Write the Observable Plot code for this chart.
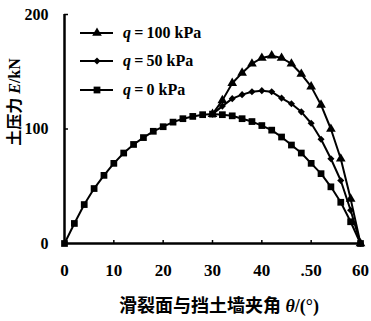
<!DOCTYPE html>
<html><head><meta charset="utf-8">
<script src="https://cdn.jsdelivr.net/npm/d3@7"></script>
<script src="https://cdn.jsdelivr.net/npm/@observablehq/plot@0.6"></script>
<style>
body{margin:0;background:#fff}
svg text{font-family:'Liberation Serif','Times New Roman',serif !important;font-weight:bold}
</style></head><body><div id="chart"></div>
<script>
// ---- data ----
const theta = [0,2,4,6,8,10,12,14,16,18,20,22,24,26,28,30,32,34,36,38,40,42,44,46,48,50,52,54,56,58,60];
const thetaHigh = [30,32,34,36,38,40,42,44,46,48,50,52,54,56,58,60];
const q0 = [0,17.5,34,48,59.5,70,79,86.5,92.5,98,102,106,109,111,112.5,113,112.5,111.5,109,106.5,103,99,93,86,79,70,61,49.5,36,19,0];
const q50 = [113,120,126.5,130,132.5,133.5,132.5,127,122,115,105,91,74,55,29,0];
const q100 = [113,125,140,149,157,162,164,162,157,148,137,121,100,74,39,0];
const seriesNames = ["\u2009=\u2009100 kPa","\u2009=\u200950 kPa","\u2009=\u20090 kPa"];
const seriesSymbols = ["triangle","diamond2","square"];
const xTicks = [0,10,20,30,40,50,60];
const xTickLabels = ["0","10","20","30","40",".50","60"];
const yTicks = [0,100,200];
const xTitle = "滑裂面与挡土墙夹角";
const yTitle = "土压力";

const rows0 = theta.map((t,i)=>({t, v:q0[i]}));
const rows50 = thetaHigh.map((t,i)=>({t, v:q50[i]}));
const rows100 = thetaHigh.map((t,i)=>({t, v:q100[i]}));

const serif = "'Liberation Serif','Times New Roman',serif";
const cjk = "'Noto Sans CJK SC',sans-serif";

const plot = Plot.plot({
  width: 371, height: 321,
  marginLeft: 64, marginRight: 11, marginTop: 14, marginBottom: 78,
  style: {fontFamily: serif, fontWeight: "bold", fontSize: "16px", color: "#000", background: "#fff", overflow: "visible"},
  x: {domain: [0,60]},
  y: {domain: [0,200]},
  marks: [
    Plot.axisX({ticks: xTicks, tickSize: -3, tickPadding: 23, strokeWidth: 1.5,
      tickFormat: d => xTickLabels[xTicks.indexOf(d)], label: null, fontSize: 17}),
    Plot.axisY({ticks: yTicks, tickSize: -4, tickPadding: 20, strokeWidth: 1.5, label: null, fontSize: 16}),
    Plot.ruleX([0], {strokeWidth: 2.5}),
    Plot.ruleY([0], {strokeWidth: 2.5}),
    Plot.line(rows0, {x: "t", y: "v", stroke: "#000", strokeWidth: 2}),
    Plot.line(rows50, {x: "t", y: "v", stroke: "#000", strokeWidth: 2}),
    Plot.line(rows100, {x: "t", y: "v", stroke: "#000", strokeWidth: 2}),
    Plot.dot(rows100, {x: "t", y: "v", symbol: seriesSymbols[0], r: 3.6, fill: "#000", stroke: "none"}),
    Plot.dot(rows50, {x: "t", y: "v", symbol: seriesSymbols[1], r: 3.2, fill: "#000", stroke: "none"}),
    Plot.dot(rows0, {x: "t", y: "v", symbol: seriesSymbols[2], r: 3.8, fill: "#000", stroke: "none"})
  ]
});
document.getElementById("chart").appendChild(plot);

const svg = d3.select(plot);
// x title
const xt = svg.append("text").attr("x", 219).attr("y", 312).attr("text-anchor", "middle")
  .style("font-size", "18px");
xt.append("tspan").style("font-family", cjk).text(xTitle);
xt.append("tspan").style("font-family", serif).style("font-style", "italic").text(" θ");
xt.append("tspan").style("font-family", serif).text("/(°)");
// y title
const yt = svg.append("text").attr("transform", "translate(20,102) rotate(-90)").attr("text-anchor", "middle")
  .style("font-size", "16px");
yt.append("tspan").style("font-family", cjk).text(yTitle);
yt.append("tspan").style("font-family", serif).style("font-style", "italic").text(" E");
yt.append("tspan").style("font-family", serif).text("/kN");
// legend
const legY = [33, 61, 90];
const legSize = [40, 32, 46];
seriesNames.forEach((name, i) => {
  const g = svg.append("g").attr("transform", `translate(0,${legY[i]})`);
  g.append("line").attr("x1", 80).attr("x2", 113).attr("y1", 0).attr("y2", 0).attr("stroke", "#000").attr("stroke-width", 2);
  const sym = [d3.symbolTriangle, d3.symbolDiamond2, d3.symbolSquare][i];
  g.append("path").attr("transform", "translate(97,0)").attr("d", d3.symbol(sym, legSize[i])()).attr("fill", "#000");
  const t = g.append("text").attr("x", 123).attr("y", 5).attr("text-anchor", "start").style("font-size", "16px");
  t.append("tspan").style("font-style", "italic").text("q");
  t.append("tspan").text(name);
});
</script></body></html>
